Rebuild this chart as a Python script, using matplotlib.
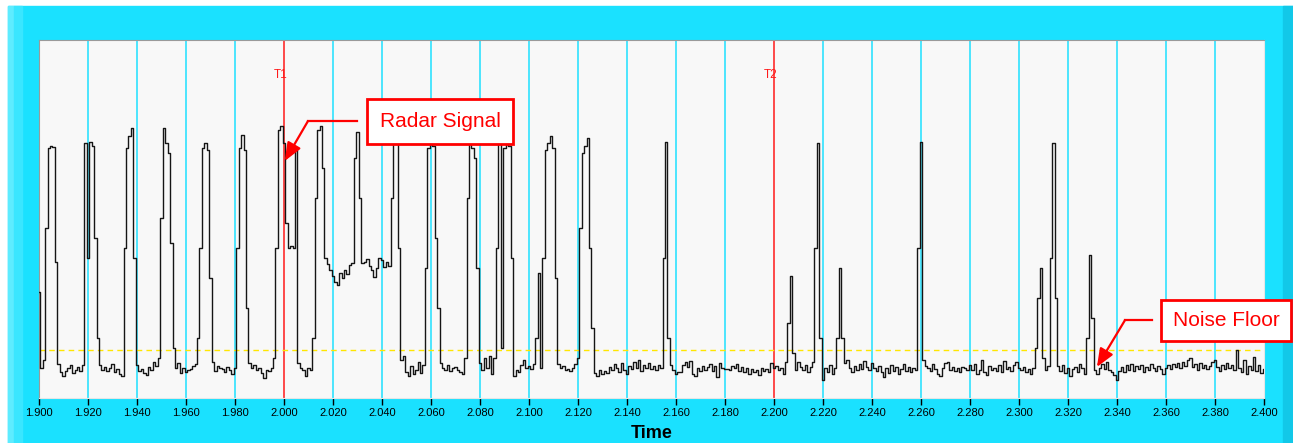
import numpy as np
import matplotlib.pyplot as plt
from matplotlib.patches import Rectangle

plt.rcParams['font.family'] = ['Liberation Sans', 'DejaVu Sans']

# Radar trace, one sample per ms from 1.900 s to 2.400 s (arbitrary amplitude units)
t_start, t_end = 1.900, 2.400
signal = [
    106, 30, 38, 170, 250, 252, 251, 136, 34, 26,
    22, 27, 30, 33, 25, 28, 31, 27, 33, 255,
    140, 256, 252, 160, 60, 33, 28, 31, 27, 30,
    34, 26, 29, 24, 22, 150, 250, 262, 270, 140,
    33, 27, 29, 25, 23, 31, 28, 36, 32, 40,
    180, 270, 255, 245, 155, 50, 30, 35, 25, 30,
    26, 28, 29, 32, 34, 60, 150, 250, 255, 248,
    120, 36, 27, 32, 30, 29, 26, 31, 28, 24,
    30, 150, 250, 263, 248, 90, 35, 30, 33, 28,
    30, 25, 20, 28, 27, 30, 40, 150, 268, 272,
    255, 175, 150, 152, 150, 250, 35, 30, 28, 22,
    30, 28, 60, 200, 268, 272, 230, 140, 134, 128,
    122, 116, 113, 125, 120, 128, 124, 133, 135, 240,
    266, 200, 135, 136, 139, 132, 128, 121, 130, 140,
    138, 131, 136, 132, 200, 258, 260, 150, 38, 42,
    26, 22, 32, 24, 28, 36, 25, 33, 130, 250,
    258, 252, 160, 90, 35, 30, 28, 33, 27, 30,
    31, 28, 26, 24, 40, 200, 256, 250, 240, 130,
    35, 28, 40, 30, 42, 24, 40, 150, 255, 50,
    250, 258, 252, 140, 22, 28, 26, 33, 38, 30,
    32, 29, 34, 60, 125, 30, 140, 248, 255, 262,
    250, 120, 34, 30, 32, 28, 29, 27, 30, 34,
    40, 170, 245, 252, 260, 150, 70, 25, 22, 28,
    24, 27, 25, 31, 28, 34, 30, 26, 35, 28,
    24, 32, 29, 36, 30, 38, 27, 33, 30, 35,
    29, 32, 28, 33, 30, 140, 256, 60, 33, 28,
    24, 26, 26, 33, 36, 31, 37, 24, 22, 30,
    27, 32, 28, 31, 34, 27, 32, 21, 35, 30,
    29, 29, 28, 32, 30, 34, 27, 31, 26, 30,
    24, 29, 26, 28, 23, 30, 27, 29, 26, 35,
    30, 32, 28, 30, 24, 36, 75, 122, 45, 28,
    36, 31, 28, 33, 26, 31, 36, 150, 255, 60,
    18, 30, 26, 33, 24, 30, 60, 130, 60, 35,
    38, 30, 26, 32, 28, 34, 29, 37, 31, 28,
    35, 30, 27, 32, 26, 21, 30, 25, 33, 27,
    31, 24, 29, 34, 27, 31, 26, 30, 28, 150,
    256, 38, 32, 30, 27, 34, 29, 24, 22, 30,
    35, 36, 28, 31, 27, 30, 26, 31, 30, 28,
    33, 28, 34, 24, 28, 38, 26, 23, 32, 28,
    30, 27, 33, 26, 37, 29, 31, 27, 33, 36,
    30, 28, 31, 26, 29, 24, 30, 50, 100, 130,
    40, 28, 32, 140, 255, 100, 32, 27, 33, 25,
    30, 22, 29, 31, 26, 34, 30, 24, 60, 143,
    80, 28, 24, 30, 34, 29, 36, 28, 26, 23,
    18, 27, 31, 26, 33, 28, 34, 27, 32, 29,
    33, 26, 31, 28, 34, 30, 27, 32, 29, 24,
    30, 33, 29, 34, 31, 35, 30, 36, 32, 38,
    40, 31, 34, 28, 35, 30, 33, 29, 32, 36,
    38, 31, 27, 33, 29, 35, 30, 33, 28, 48,
    30, 26, 38, 24, 32, 28, 41, 27, 33, 25,
    29,
]
noise_floor = 48
cursor_names = ['T1', 'T2']
cursor_times = [2.000, 2.200]
tick_values = [1.90, 1.92, 1.94, 1.96, 1.98, 2.00, 2.02, 2.04, 2.06, 2.08,
               2.10, 2.12, 2.14, 2.16, 2.18, 2.20, 2.22, 2.24, 2.26, 2.28,
               2.30, 2.32, 2.34, 2.36, 2.38, 2.40]
tick_labels = ['%.3f' % v for v in tick_values]

time = np.linspace(t_start, t_end, len(signal))

W, H = 1293, 443
fig = plt.figure(figsize=(W / 100, H / 100), dpi=100)
fig.patch.set_facecolor('white')

# cyan panel with a bit of bevel
fig.add_artist(Rectangle((8 / W, 0), 1, 437 / H, transform=fig.transFigure,
                         color='#1ae1ff', zorder=0))
fig.add_artist(Rectangle((8 / W, 0), 6 / W, 437 / H, transform=fig.transFigure,
                         color='#5eecff', zorder=0))
fig.add_artist(Rectangle((14 / W, 0), 8 / W, 437 / H, transform=fig.transFigure,
                         color='#3ae6ff', zorder=0))
fig.add_artist(Rectangle((1283 / W, 0), 10 / W, 437 / H, transform=fig.transFigure,
                         color='#12c8e8', zorder=0))

ax = fig.add_axes([39 / W, 45 / H, 1225 / W, 358 / H])
ax.set_facecolor('#f8f8f8')
ax.set_xlim(t_start, t_end)
ax.set_ylim(0, 358)

# grid lines
for v in tick_values[1:-1]:
    if any(abs(v - c) < 1e-9 for c in cursor_times):
        continue
    ax.axvline(v, color='#1ee0ff', lw=1.1, zorder=1)

# cursors
for name, c in zip(cursor_names, cursor_times):
    ax.axvline(c, color='#ff1a1a', lw=1.1, zorder=2)
    ax.text(c - 0.0012, 323, name, color='#ff1a1a', fontsize=8.5,
            ha='center', va='center', zorder=3)

ax.axhline(noise_floor, color='#ffe600', lw=1.0, ls=(0, (4, 3)), zorder=2)
ax.plot(time, signal, color='#151515', lw=1.0, drawstyle='steps-mid', zorder=4)

# annotations
red = '#ff0000'
ax.plot([2.0098, 2.0298], [277, 277], color=red, lw=1.6, zorder=5)
ax.annotate('', xy=(2.0003, 237), xytext=(2.0098, 277),
            arrowprops=dict(arrowstyle='-|>,head_length=1.1,head_width=0.45',
                            color=red, lw=1.6, shrinkA=0, shrinkB=0), zorder=5)
ax.text(2.0637, 276.5, 'Radar Signal', fontsize=15, color=red, ha='center',
        va='center', zorder=6,
        bbox=dict(boxstyle='square,pad=0.62', fc='white', ec=red, lw=2))

ax.plot([2.3433, 2.3543], [78, 78], color=red, lw=1.6, zorder=5)
ax.annotate('', xy=(2.3318, 31), xytext=(2.3433, 78),
            arrowprops=dict(arrowstyle='-|>,head_length=1.1,head_width=0.45',
                            color=red, lw=1.6, shrinkA=0, shrinkB=0), zorder=5)
ax.text(2.3845, 77.5, 'Noise Floor', fontsize=15, color=red, ha='center',
        va='center', zorder=6, clip_on=False,
        bbox=dict(boxstyle='square,pad=0.55', fc='white', ec=red, lw=2))

# axes styling
ax.set_xticks(tick_values)
ax.set_xticklabels(tick_labels)
ax.set_yticks([])
ax.tick_params(axis='x', direction='out', length=5, width=1, color='black',
               labelsize=8, pad=2)
ax.spines['top'].set_color('#9a9a9a')
ax.spines['left'].set_color('#9a9a9a')
ax.spines['bottom'].set_color('#e6e6e6')
ax.spines['right'].set_color('#e6e6e6')
ax.set_xlabel('Time', fontsize=13, fontweight='bold', labelpad=5)

fig.savefig('out.png', dpi=100)
